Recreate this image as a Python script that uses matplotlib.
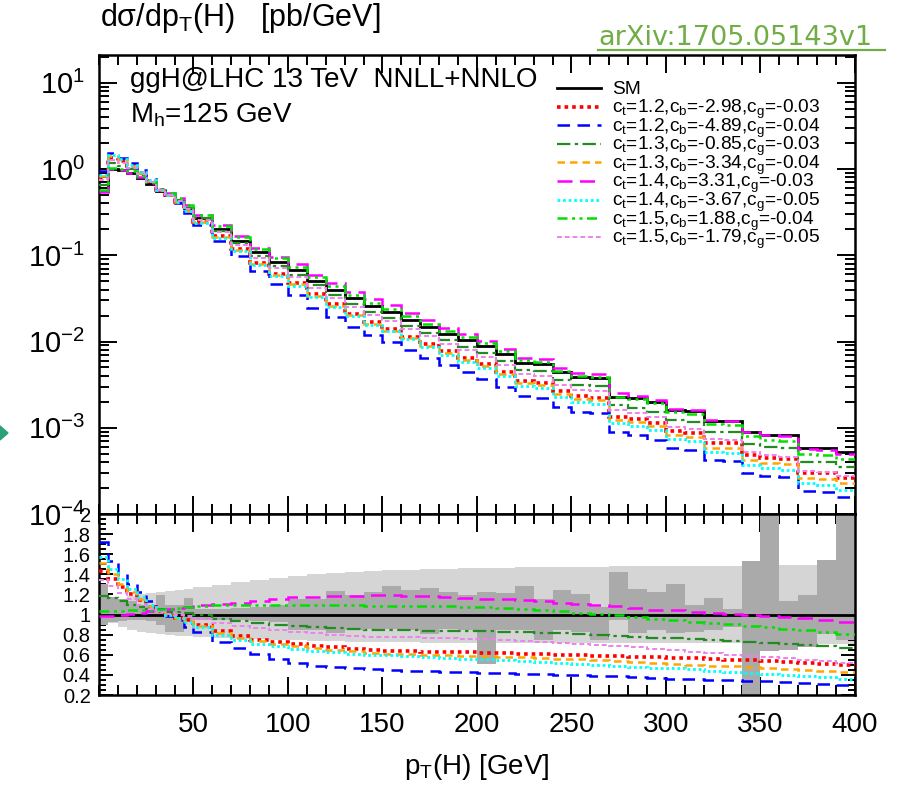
import numpy as np
import matplotlib
matplotlib.use("Agg")
import matplotlib.pyplot as plt
from matplotlib.lines import Line2D
from matplotlib.patches import Polygon
from matplotlib.ticker import LogLocator, LogFormatterMathtext, MultipleLocator, FixedLocator, FixedFormatter, NullFormatter

plt.rcParams['font.family'] = ['Liberation Sans', 'DejaVu Sans']
plt.rcParams['mathtext.fontset'] = 'custom'
plt.rcParams['mathtext.rm'] = 'Liberation Sans'
plt.rcParams['mathtext.it'] = 'Liberation Sans:italic'
plt.rcParams['mathtext.default'] = 'regular'

# bin edges in pT(H) [GeV]: 5 GeV bins up to 50, 10 GeV bins up to 400
edges = list(range(0, 50, 5)) + list(range(50, 401, 10))

# SM spectrum dsigma/dpT [pb/GeV]
sm = [0.55, 1.00, 0.97, 0.90, 0.79, 0.67, 0.55, 0.50, 0.43, 0.35,
      0.27, 0.20, 0.148, 0.108, 0.084, 0.067, 0.051, 0.040, 0.032, 0.026,
      0.022, 0.018, 0.0149, 0.0123, 0.0104, 0.0088, 0.0072, 0.0057, 0.0055, 0.0044,
      0.0039, 0.0038, 0.0023, 0.0022, 0.0020, 0.0016, 0.00155, 0.0012, 0.0012, 0.00089,
      0.00083, 0.00082, 0.00058, 0.00058, 0.00053]

# ratios to SM for the benchmark points
r_red = [1.43, 1.35, 1.27, 1.20, 1.14, 1.08, 1.04, 1.00, 0.97, 0.95,
         0.90, 0.84, 0.79, 0.75, 0.73, 0.71, 0.69, 0.675, 0.66, 0.65,
         0.64, 0.635, 0.63, 0.63, 0.625, 0.62, 0.615, 0.61, 0.605, 0.60,
         0.595, 0.59, 0.585, 0.58, 0.575, 0.57, 0.565, 0.56, 0.55, 0.545,
         0.535, 0.53, 0.52, 0.51, 0.50]
r_blue = [1.72, 1.53, 1.40, 1.30, 1.22, 1.13, 1.06, 0.99, 0.95, 0.88,
          0.83, 0.73, 0.665, 0.61, 0.56, 0.52, 0.485, 0.475, 0.465, 0.455,
          0.448, 0.44, 0.435, 0.43, 0.425, 0.42, 0.415, 0.41, 0.405, 0.40,
          0.395, 0.39, 0.385, 0.375, 0.365, 0.36, 0.355, 0.35, 0.345, 0.34,
          0.335, 0.33, 0.32, 0.31, 0.30]
r_dkgreen = [1.18, 1.16, 1.13, 1.10, 1.08, 1.06, 1.04, 1.03, 1.03, 1.02,
             1.00, 0.96, 0.94, 0.92, 0.90, 0.89, 0.88, 0.87, 0.86, 0.85,
             0.85, 0.845, 0.84, 0.84, 0.84, 0.84, 0.83, 0.83, 0.82, 0.82,
             0.81, 0.80, 0.79, 0.78, 0.77, 0.765, 0.755, 0.745, 0.735, 0.725,
             0.715, 0.705, 0.695, 0.685, 0.67]
r_orange = [1.51, 1.40, 1.30, 1.22, 1.15, 1.09, 1.04, 1.00, 0.97, 0.94,
            0.89, 0.82, 0.77, 0.735, 0.71, 0.69, 0.67, 0.65, 0.635, 0.62,
            0.61, 0.605, 0.60, 0.595, 0.59, 0.585, 0.58, 0.575, 0.57, 0.56,
            0.555, 0.55, 0.54, 0.53, 0.52, 0.51, 0.50, 0.49, 0.485, 0.48,
            0.47, 0.46, 0.45, 0.44, 0.43]
r_magenta = [0.99, 0.99, 1.00, 1.01, 1.02, 1.04, 1.05, 1.06, 1.07, 1.08,
             1.10, 1.11, 1.12, 1.13, 1.15, 1.17, 1.17, 1.18, 1.18, 1.19,
             1.19, 1.18, 1.18, 1.17, 1.16, 1.15, 1.15, 1.14, 1.13, 1.12,
             1.11, 1.10, 1.09, 1.07, 1.05, 1.045, 1.03, 1.02, 1.01, 1.00,
             0.99, 0.98, 0.97, 0.95, 0.93]
r_cyan = [1.57, 1.45, 1.35, 1.25, 1.17, 1.10, 1.05, 1.00, 0.97, 0.93,
          0.88, 0.80, 0.75, 0.71, 0.685, 0.655, 0.64, 0.625, 0.61, 0.60,
          0.595, 0.59, 0.58, 0.57, 0.56, 0.555, 0.55, 0.54, 0.53, 0.52,
          0.51, 0.50, 0.49, 0.48, 0.47, 0.465, 0.455, 0.44, 0.43, 0.42,
          0.41, 0.40, 0.39, 0.375, 0.36]
r_lime = [1.04, 1.04, 1.04, 1.05, 1.05, 1.05, 1.06, 1.06, 1.07, 1.08,
          1.09, 1.095, 1.10, 1.10, 1.10, 1.10, 1.10, 1.10, 1.095, 1.09,
          1.09, 1.09, 1.085, 1.085, 1.08, 1.08, 1.07, 1.06, 1.05, 1.04,
          1.02, 1.01, 0.995, 0.98, 0.96, 0.945, 0.93, 0.92, 0.905, 0.89,
          0.875, 0.86, 0.845, 0.83, 0.81]
r_violet = [1.34, 1.28, 1.21, 1.15, 1.10, 1.06, 1.03, 1.01, 1.00, 0.99,
            0.96, 0.92, 0.89, 0.865, 0.845, 0.83, 0.815, 0.80, 0.79, 0.78,
            0.78, 0.775, 0.77, 0.765, 0.76, 0.755, 0.75, 0.74, 0.73, 0.72,
            0.71, 0.70, 0.69, 0.675, 0.66, 0.645, 0.63, 0.615, 0.60, 0.59,
            0.58, 0.565, 0.55, 0.535, 0.515]

# SM uncertainty bands in the ratio panel
band_hi = [1.03, 1.08, 1.14, 1.18, 1.20, 1.21, 1.22, 1.23, 1.24, 1.25,
           1.27, 1.29, 1.32, 1.34, 1.36, 1.38, 1.40, 1.41, 1.42, 1.43,
           1.44, 1.44, 1.45, 1.45, 1.46, 1.46, 1.46, 1.47, 1.47, 1.47,
           1.47, 1.47, 1.48, 1.48, 1.48, 1.48, 1.48, 1.48, 1.48, 1.48,
           1.49, 1.49, 1.49, 1.49, 1.49]
band_lo = [0.97, 0.92, 0.88, 0.85, 0.83, 0.82, 0.81, 0.80, 0.79, 0.785,
           0.78, 0.77, 0.76, 0.755, 0.75, 0.745, 0.74, 0.735, 0.73, 0.73,
           0.725, 0.725, 0.72, 0.72, 0.72, 0.72, 0.72, 0.72, 0.72, 0.72,
           0.715, 0.715, 0.715, 0.715, 0.715, 0.715, 0.715, 0.715, 0.715, 0.715,
           0.71, 0.71, 0.71, 0.71, 0.71]
stat_hi = [1.30, 1.17, 1.15, 1.13, 1.10, 1.10, 1.19, 1.10, 1.10, 1.16,
           1.06, 1.06, 1.07, 1.08, 1.10, 1.15, 1.15, 1.23, 1.19, 1.22,
           1.28, 1.24, 1.26, 1.22, 1.19, 1.22, 1.21, 1.28, 1.15, 1.24,
           1.20, 1.08, 1.42, 1.25, 1.22, 1.30, 1.10, 1.16, 1.055, 1.53,
           2.10, 1.13, 1.19, 1.54, 2.10]
stat_lo = [0.90, 0.93, 0.94, 0.95, 0.95, 0.94, 0.90, 0.83, 0.83, 0.94,
           0.95, 0.95, 0.95, 0.94, 0.93, 0.85, 0.85, 0.82, 0.85, 0.86,
           0.86, 0.85, 0.81, 0.86, 0.85, 0.51, 0.85, 0.85, 0.75, 0.85,
           0.83, 0.75, 0.95, 0.82, 0.85, 0.82, 0.83, 0.85, 0.88, 0.10,
           0.64, 0.65, 0.68, 0.81, 0.75]

labels = [r'c$_t$=1.2,c$_b$=-2.98,c$_g$=-0.03',
          r'c$_t$=1.2,c$_b$=-4.89,c$_g$=-0.04',
          r'c$_t$=1.3,c$_b$=-0.85,c$_g$=-0.03',
          r'c$_t$=1.3,c$_b$=-3.34,c$_g$=-0.04',
          r'c$_t$=1.4,c$_b$=3.31,c$_g$=-0.03',
          r'c$_t$=1.4,c$_b$=-3.67,c$_g$=-0.05',
          r'c$_t$=1.5,c$_b$=1.88,c$_g$=-0.04',
          r'c$_t$=1.5,c$_b$=-1.79,c$_g$=-0.05']
ratios = [r_red, r_blue, r_dkgreen, r_orange, r_magenta, r_cyan, r_lime, r_violet]
styles = [('#ff0000', (0, (1, 1.1)), 2.6),
          ('#0000ff', (0, (5, 3)), 1.8),
          ('#228b22', (0, (6, 2, 1.5, 2)), 1.6),
          ('#ffa500', (0, (3, 2)), 1.8),
          ('#ff00ff', (0, (6, 3)), 1.8),
          ('#00ffff', (0, (1, 1)), 2.0),
          ('#00e000', (0, (4, 1.8, 1.2, 1.8, 1.2, 1.8)), 1.8),
          ('#ee82ee', (0, (2.5, 1.5)), 1.4)]

W, H = 915, 788
fig = plt.figure(figsize=(W / 100, H / 100), dpi=100)
ax1 = fig.add_axes([0.1082, 0.3477, 0.8262, 0.5825])
ax2 = fig.add_axes([0.1082, 0.1180, 0.8262, 0.2297], sharex=ax1)

sm_arr = np.array(sm)

# upper panel
ax1.stairs(sm_arr, edges, baseline=None, color='black', lw=2.0, zorder=3)
for r, (c, ls, lw) in zip(ratios, styles):
    ax1.stairs(sm_arr * np.array(r), edges, baseline=None, color=c, ls=ls, lw=lw, zorder=4)
ax1.set_yscale('log')
ax1.set_ylim(1e-4, 21)
ax1.set_xlim(0, 400)

# legend drawn entry by entry to get the tight row spacing of the original
leg_entries = [('SM', ('black', '-', 2.0))] + list(zip(labels, styles))
for i, (txt, (c, ls, lw)) in enumerate(leg_entries):
    yc = 1 - (88 + 18.6 * i) / H
    fig.add_artist(Line2D([557 / W, 601 / W], [yc, yc], color=c, ls=ls, lw=lw))
    fig.text(612 / W, yc - 6.5 / H, txt, fontsize=13.8, va='baseline', ha='left')

ax1.text(130 / W, 1 - 80 / H, 'ggH@LHC 13 TeV  NNLL+NNLO', transform=fig.transFigure,
         fontsize=20, va='center', ha='left')
ax1.text(130 / W, 1 - 115 / H, r'M$_h$=125 GeV', transform=fig.transFigure,
         fontsize=20, va='center', ha='left')

# lower panel
ax2.stairs(band_hi, edges, baseline=band_lo, fill=True, color='#d5d5d5', lw=0, zorder=1)
ax2.stairs(stat_hi, edges, baseline=stat_lo, fill=True, color='#aaaaaa', lw=0, zorder=2)
ax2.axhline(1.0, color='black', lw=2.0, zorder=3)
for r, (c, ls, lw) in zip(ratios, styles):
    ax2.stairs(r, edges, baseline=None, color=c, ls=ls, lw=lw, zorder=4)
ax2.set_ylim(0.2, 2.0)

# ticks
for ax in (ax1, ax2):
    ax.xaxis.set_major_locator(MultipleLocator(50))
    ax.xaxis.set_minor_locator(MultipleLocator(10))
    ax.tick_params(which='both', direction='in', top=True, right=True, width=1.4, colors='black')
    ax.tick_params(which='major', length=13)
    ax.tick_params(which='minor', length=7)
    for s in ax.spines.values():
        s.set_linewidth(1.8)

ax1.yaxis.set_major_locator(LogLocator(base=10, numticks=10))
ax1.yaxis.set_minor_locator(LogLocator(base=10, subs=np.arange(2, 10), numticks=20))
ax1.yaxis.set_major_formatter(LogFormatterMathtext())
ax1.yaxis.set_minor_formatter(NullFormatter())
ax1.tick_params(axis='y', which='major', labelsize=21, pad=10)
ax1.tick_params(axis='x', labelbottom=False)

yt = [0.2, 0.4, 0.6, 0.8, 1.0, 1.2, 1.4, 1.6, 1.8, 2.0]
ytl = ['0.2', '0.4', '0.6', '0.8', '1', '1.2', '1.4', '1.6', '1.8', '2']
ax2.yaxis.set_major_locator(FixedLocator(yt))
ax2.yaxis.set_major_formatter(FixedFormatter(ytl))
ax2.yaxis.set_minor_locator(MultipleLocator(0.05))
ax2.tick_params(axis='y', which='major', length=10, labelsize=14.5, pad=6)
ax2.tick_params(axis='y', which='minor', length=5)
ax2.tick_params(axis='x', labelsize=20, pad=12)
ax2.set_xticks([50, 100, 150, 200, 250, 300, 350, 400])
ax2.set_xlabel(r'p$_T$(H) [GeV]', fontsize=20, labelpad=10)

# titles and annotation
fig.text(100 / W, 1 - 18 / H, r'd$\sigma$/dp$_T$(H)   [pb/GeV]', fontsize=22, va='center', ha='left')
green = '#70ad47'
fig.text(598 / W, 1 - 45 / H, 'arXiv:1705.05143v1', fontsize=19.5, color=green,
         family=['DejaVu Sans'], va='baseline', ha='left')
fig.add_artist(Line2D([598 / W, 885 / W], [1 - 50 / H, 1 - 50 / H], color=green, lw=1.6))
fig.add_artist(Polygon([(0, 1 - 426 / H), (8 / W, 1 - 433 / H), (0, 1 - 440 / H)],
                       closed=True, color='#2ca07a', transform=fig.transFigure))

fig.savefig('out.png', dpi=100)
